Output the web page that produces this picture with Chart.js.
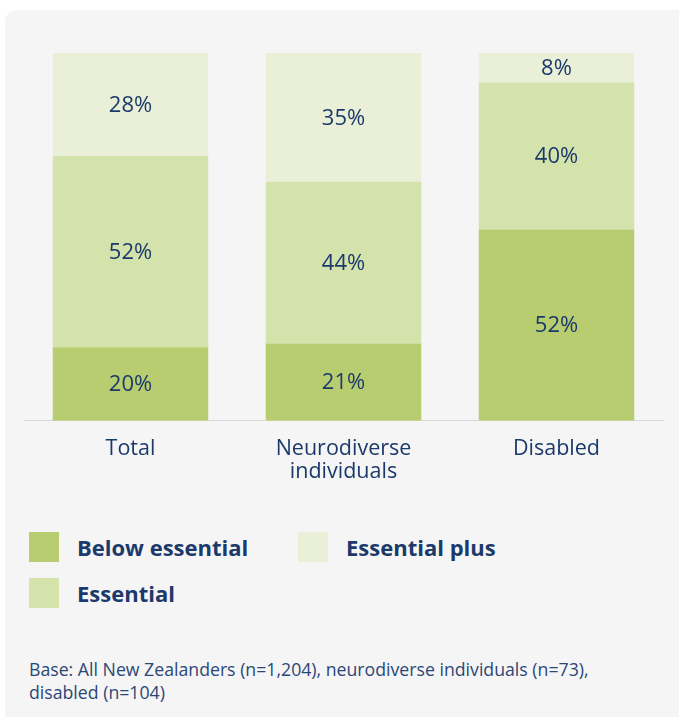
<!DOCTYPE html>
<html>
<head>
<meta charset="utf-8">
<script src="https://cdn.jsdelivr.net/npm/chart.js@4/dist/chart.umd.min.js"></script>
<style>
  html, body { margin: 0; padding: 0; background: #ffffff; }
  body { width: 679px; height: 717px; position: relative; overflow: hidden; font-family: "Open Sans", "Noto Sans", sans-serif; color: #1b3a6b; }
  .panel { position: absolute; left: 5px; top: 10px; width: 700px; height: 740px; background: #f5f5f5; border-radius: 12px; }
  #chartBox { position: absolute; left: 0; top: 0; width: 679px; height: 492px; }
  .legend { position: absolute; left: 29px; top: 532px; width: 620px; height: 80px; }
  .legend-item { position: absolute; height: 30px; display: flex; align-items: center; font-weight: 700; font-size: 22px; }
  .legend-item span.box { width: 30px; height: 30px; margin-right: 18px; display: inline-block; }
  .note { position: absolute; left: 29px; top: 658px; font-size: 17.7px; line-height: 23px; color: #2a4777; }
</style>
</head>
<body>
<div class="panel"></div>
<div id="chartBox"><canvas id="skillsChart"></canvas></div>
<div class="legend" id="legend"></div>
<div class="note">Base: All New Zealanders (n=1,204), neurodiverse individuals (n=73),<br>disabled (n=104)</div>
<script>
  // Groupes et niveaux (en %)
  const categories = ["Total", ["Neurodiverse", "individuals"], "Disabled"];
  const seriesNames = ["Below essential", "Essential", "Essential plus"];
  const belowEssential = [20, 21, 52];
  const essential = [52, 44, 40];
  const essentialPlus = [28, 35, 8];
  const seriesColors = ["#b7cd70", "#d4e2ab", "#e9f0d7"];

  const navy = "#1b3a6b";

  // Ecrit la valeur au centre de chaque segment
  const segmentLabels = {
    id: "segmentLabels",
    afterDatasetsDraw(chart) {
      const ctx = chart.ctx;
      ctx.save();
      ctx.font = "22px 'Open Sans', 'Noto Sans', sans-serif";
      ctx.fillStyle = navy;
      ctx.textAlign = "center";
      ctx.textBaseline = "middle";
      chart.data.datasets.forEach((ds, i) => {
        chart.getDatasetMeta(i).data.forEach((bar, j) => {
          const mid = (bar.y + bar.base) / 2;
          ctx.fillText(ds.data[j] + "%", bar.x, mid + 1);
        });
      });
      ctx.restore();
    }
  };

  const seriesData = [belowEssential, essential, essentialPlus];

  new Chart(document.getElementById("skillsChart"), {
    type: "bar",
    data: {
      labels: categories,
      datasets: seriesNames.map((name, i) => ({
        label: name,
        data: seriesData[i],
        backgroundColor: seriesColors[i],
        borderWidth: 0,
        barPercentage: 0.73,
        categoryPercentage: 1
      }))
    },
    options: {
      responsive: true,
      maintainAspectRatio: false,
      animation: false,
      layout: { padding: { left: 24, right: 16, top: 53, bottom: 0 } },
      plugins: {
        legend: { display: false },
        tooltip: { enabled: false }
      },
      scales: {
        x: {
          stacked: true,
          grid: { display: false },
          border: { display: true, color: "#d9d9d9", width: 1 },
          ticks: {
            color: navy,
            padding: 8,
            font: { family: "'Open Sans', 'Noto Sans', sans-serif", size: 21.5, lineHeight: 1.1 }
          }
        },
        y: {
          stacked: true,
          display: false,
          min: 0,
          max: 100
        }
      }
    },
    plugins: [segmentLabels]
  });

  // Légende en deux colonnes
  const legend = document.getElementById("legend");
  const legendPos = [[0, 0], [0, 46], [269, 0]];
  seriesNames.forEach((name, i) => {
    const item = document.createElement("div");
    item.className = "legend-item";
    item.style.left = legendPos[i][0] + "px";
    item.style.top = legendPos[i][1] + "px";
    item.innerHTML = '<span class="box" style="background:' + seriesColors[i] + '"></span>' + name;
    legend.appendChild(item);
  });
</script>
</body>
</html>
